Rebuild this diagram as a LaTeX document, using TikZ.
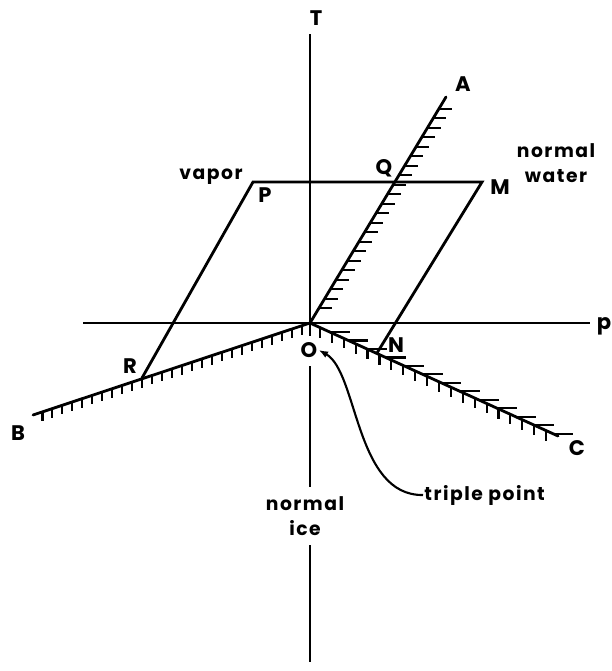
\documentclass[tikz,border=0pt]{standalone}
\usepackage{fontspec}
\setmainfont{Poppins}
\newfontfamily\lblfont{Poppins}[LetterSpace=8]
\usetikzlibrary{arrows.meta, calc}
\tikzset{
  axisline/.style={line width=2.4pt, color=black},
  phaseline/.style={line width=2.4pt, color=black, line cap=round},
  hatch/.style={line width=1.8pt, color=black},
  caplabel/.style={font=\fontsize{18}{20}\selectfont\bfseries, inner sep=1pt},
  wordlabel/.style={font=\fontsize{16}{21}\lblfont\bfseries, align=center, inner sep=1pt},
  pointarr/.style={-{Latex[length=8pt, width=6pt]}, line width=1.8pt},
}

\begin{document}
\begin{tikzpicture}[x=0.3mm, y=-0.3mm]
  \useasboundingbox (0,0) rectangle (611,671);

  % points of the diagram
  \coordinate (O) at (310,323);
  \coordinate (A) at (446,97);
  \coordinate (B) at (33,415);
  \coordinate (C) at (558,436);
  \coordinate (P) at (253,182);
  \coordinate (M) at (482,182);
  \coordinate (N) at (377,353);
  \coordinate (R) at (142,378);
  \coordinate (Ttop) at (310,34);
  \coordinate (pleft) at (83,323);
  \coordinate (pright) at (590,323);

  % labels
  \node[caplabel] (Tl) at (316,18)  {T};
  \node[caplabel] (pl) at (604,326) {p};
  \node[caplabel] (Al) at (463,84)  {A};
  \node[caplabel] (Bl) at (18,433)  {B};
  \node[caplabel] (Cl) at (577,448) {C};
  \node[caplabel] (Ol) at (309,350) {O};
  \node[caplabel] (Nl) at (396,345) {N};
  \node[caplabel] (Ql) at (384,168) {Q};
  \node[caplabel] (Ml) at (500,187) {M};
  \node[caplabel] (Pl) at (265,195) {P};
  \node[caplabel] (Rl) at (130,366) {R};
  \node[wordlabel] (vap) at (211,177) {vapor};
  \node[wordlabel] (wat) at (556,163) {normal\\water};
  \node[wordlabel] (ice) at (305,516) {normal\\ice};
  \node[wordlabel, anchor=west] (tp) at (423,495) {triple point};

  % axes
  \draw[axisline] (pleft) -- (pright);
  \draw[axisline] (Ttop) -- ($(O)+(0,13)$);
  \draw[axisline] (310,366) -- (310,487);
  \draw[axisline] (310,545) -- (310,662);

  % parallelogram
  \draw[phaseline] (R) -- (P) -- (M) -- (N);

  % phase boundaries
  \draw[phaseline] (O) -- (A);
  \draw[phaseline] (O) -- (B);
  \draw[phaseline] (O) -- (C);

  % hatching
  \foreach \t in {0.066,0.108,...,0.97}
    \draw[hatch] ($(O)!\t!(A)$) -- ++(13,0);
  \foreach \t in {0.03,0.066,...,1.0}
    \draw[hatch] ($(O)!\t!(B)$) -- ++(0,9);
  \foreach \t in {0.04,0.088,...,1.0}
    \draw[hatch] ($(O)!\t!(C)$) -- ++(0,10);
  \foreach \t in {0.08,0.155,...,1.0}
    \draw[hatch] ($(O)!\t!(C)$) -- ++(20,0);

  % triple point pointer
  \draw[pointarr] (tp.west) .. controls (355,496) and (358,372) .. (Ol.east);
\end{tikzpicture}
\end{document}
